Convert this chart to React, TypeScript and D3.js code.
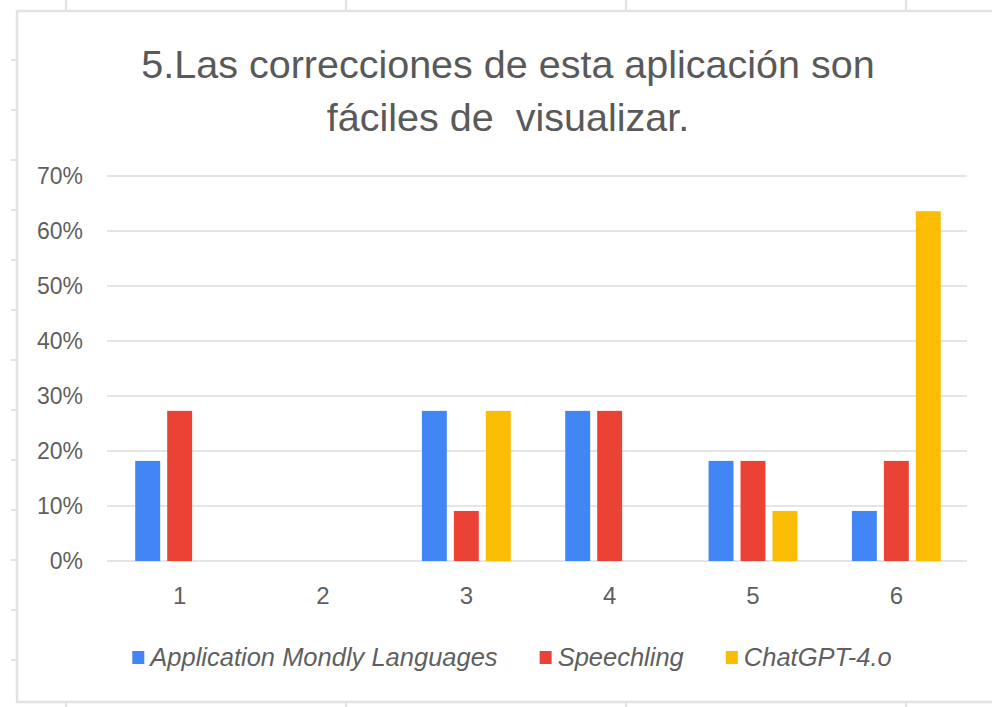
import React, { useEffect, useRef } from 'react';
import * as d3 from 'd3';

const categories = ['1', '2', '3', '4', '5', '6'];
const seriesNames = ['Application Mondly Languages', 'Speechling', 'ChatGPT-4.o'];
const mondly = [0.182, 0, 0.273, 0.273, 0.182, 0.091];
const speechling = [0.273, 0, 0.091, 0.273, 0.182, 0.182];
const chatgpt = [0, 0, 0.273, 0, 0.091, 0.636];
const colors = ['#4285F4', '#EA4335', '#FBBC04'];
const yTicks = [0, 0.1, 0.2, 0.3, 0.4, 0.5, 0.6, 0.7];
const titleLines = ['5.Las correcciones de esta aplicación son', 'fáciles de  visualizar.'];

const App = () => {
  const ref = useRef<SVGSVGElement>(null);

  useEffect(() => {
    const height = 707;
    const svg = d3.select(ref.current);
    svg.selectAll('*').remove();

    const font = '"Liberation Sans", Arial, sans-serif';
    const textColor = '#5f5f5f';

    // background spreadsheet lines peeking around the chart card
    const sheet = svg.append('g').attr('stroke', '#e2e2e2').attr('stroke-width', 2);
    [66, 346, 626, 906].forEach((x) => {
      sheet.append('line').attr('x1', x).attr('x2', x).attr('y1', 0).attr('y2', 11);
      sheet.append('line').attr('x1', x).attr('x2', x).attr('y1', 702).attr('y2', height);
    });
    d3.range(60, 700, 50).forEach((y) => {
      sheet.append('line').attr('x1', 11).attr('x2', 17).attr('y1', y).attr('y2', y);
    });

    // chart card
    svg.append('rect')
      .attr('x', 17)
      .attr('y', 11)
      .attr('width', 1000)
      .attr('height', 691)
      .attr('fill', '#fff')
      .attr('stroke', '#e3e3e3')
      .attr('stroke-width', 2.5);

    // title (double space kept as in the source)
    svg.append('text')
      .attr('text-anchor', 'middle')
      .attr('font-family', font)
      .attr('font-size', 39.5)
      .attr('fill', '#595959')
      .style('white-space', 'pre')
      .selectAll('tspan')
      .data(titleLines)
      .join('tspan')
      .attr('x', 508)
      .attr('y', (d, i) => 78 + i * 53)
      .text((d) => d);

    const x0 = d3.scaleBand()
      .domain(categories)
      .range([108, 968])
      .paddingInner(0.38)
      .paddingOuter(0.19);

    const x1 = d3.scaleBand()
      .domain(seriesNames)
      .range([0, x0.bandwidth()])
      .paddingInner(0.22);

    const y = d3.scaleLinear().domain([0, 0.7]).range([561, 176]);

    // gridlines
    svg.append('g')
      .selectAll('line')
      .data(yTicks)
      .join('line')
      .attr('x1', 107)
      .attr('x2', 967)
      .attr('y1', (d) => y(d))
      .attr('y2', (d) => y(d))
      .attr('stroke', '#dcdcdc')
      .attr('stroke-width', 1.5);

    // y labels
    svg.append('g')
      .selectAll('text')
      .data(yTicks)
      .join('text')
      .attr('x', 83)
      .attr('y', (d) => y(d))
      .attr('dy', '0.36em')
      .attr('text-anchor', 'end')
      .attr('font-family', font)
      .attr('font-size', 23)
      .attr('fill', textColor)
      .text((d) => d3.format('.0%')(d));

    // bars
    const series = [mondly, speechling, chatgpt];
    const rows = categories.map((c, i) => ({
      cat: c,
      vals: seriesNames.map((s, k) => ({ name: s, value: series[k][i], color: colors[k] })),
    }));

    svg.append('g')
      .selectAll('g')
      .data(rows)
      .join('g')
      .attr('transform', (d) => `translate(${x0(d.cat)},0)`)
      .selectAll('rect')
      .data((d) => d.vals.filter((v) => v.value > 0))
      .join('rect')
      .attr('x', (d) => x1(d.name)!)
      .attr('width', x1.bandwidth())
      .attr('y', (d) => y(d.value))
      .attr('height', (d) => y(0) - y(d.value))
      .attr('fill', (d) => d.color);

    // x labels
    svg.append('g')
      .selectAll('text')
      .data(categories)
      .join('text')
      .attr('x', (d) => x0(d)! + x0.bandwidth() / 2)
      .attr('y', 604)
      .attr('text-anchor', 'middle')
      .attr('font-family', font)
      .attr('font-size', 24)
      .attr('fill', textColor)
      .text((d) => d);

    // legend, laid out from measured text widths and centred
    const legend = svg.append('g');
    let cursor = 0;
    seriesNames.forEach((name, i) => {
      legend.append('rect')
        .attr('x', cursor)
        .attr('y', 651)
        .attr('width', 12)
        .attr('height', 13)
        .attr('fill', colors[i]);
      const t = legend.append('text')
        .attr('x', cursor + 18)
        .attr('y', 666)
        .attr('font-family', font)
        .attr('font-style', 'italic')
        .attr('font-size', 25.5)
        .attr('fill', textColor)
        .text(name);
      const w = (t.node() as SVGTextElement).getComputedTextLength();
      cursor += 18 + w + 42;
    });
    const legendWidth = cursor - 42;
    legend.attr('transform', `translate(${512 - legendWidth / 2},0)`);
  }, []);

  return (
    <svg
      ref={ref}
      width={992}
      height={707}
      style={{ position: 'absolute', left: 0, top: 0, background: '#fff' }}
    />
  );
};

export default App;
